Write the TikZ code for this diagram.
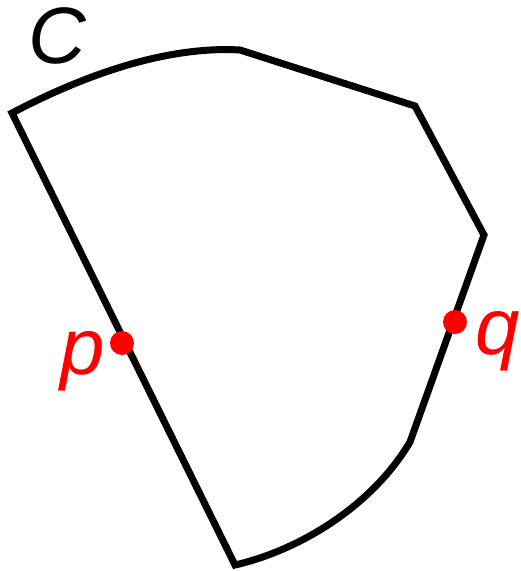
\documentclass[tikz,border=0pt]{standalone}
\usepackage{fontspec}
\setmainfont{Liberation Sans}
\begin{document}
\begin{tikzpicture}[x=1pt,y=-1pt,
  curve/.style={line width=7pt,line join=miter},
  pt/.style={circle,fill=red,inner sep=0pt,minimum size=24pt},
  lbl/.style={font=\fontsize{80}{96}\selectfont\itshape,inner sep=0pt,anchor=base}]
\useasboundingbox (0,0) rectangle (521,571);
\coordinate (a) at (12,113);
\coordinate (b) at (240,50);
\coordinate (c) at (415,106);
\coordinate (d) at (484,235);
\coordinate (e) at (410,442);
\coordinate (f) at (235,565);
\draw[curve] (a) .. controls (90,72) and (170,46) .. (b) -- (c) -- (d) -- (e)
  .. controls (372,506) and (300,550) .. (f) -- cycle;
\node[pt] (p) at (122,343) {};
\node[pt] (q) at (455,322) {};
\node[lbl,text=red] (pl) at (83,374) {p};
\node[lbl,text=red] (ql) at (498,354) {q};
\node[lbl] (cl) at (57,63) {C};
\end{tikzpicture}
\end{document}
